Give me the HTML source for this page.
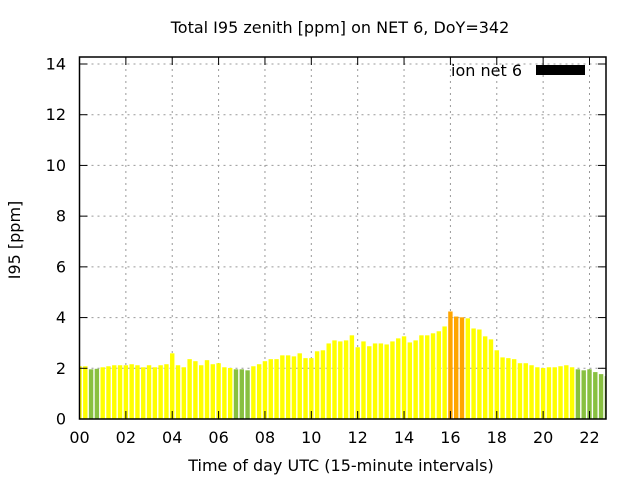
<!DOCTYPE html>
<html><head><meta charset="utf-8"><style>
body{margin:0;background:#fff}
svg text{font-family:"DejaVu Sans","Liberation Sans",sans-serif;fill:#000}
</style></head><body>
<svg id="chart" width="640" height="480" xmlns="http://www.w3.org/2000/svg">
<rect width="640" height="480" fill="#fff"/>
<text x="340" y="33" font-size="16" text-anchor="middle">Total I95 zenith [ppm] on NET 6, DoY=342</text>
<g id="grid"></g>
<g id="bars"></g>
<g id="axes"></g>
<text transform="translate(20,240) rotate(-90)" font-size="16" text-anchor="middle">I95 [ppm]</text>
<text x="341" y="471" font-size="16" text-anchor="middle">Time of day UTC (15-minute intervals)</text>
<g>
<text x="522" y="76" font-size="16" text-anchor="end">ion net 6</text>
<rect x="536" y="65" width="49" height="10" fill="#000"/>
</g>
</svg>
<script>
const values=[2.08,2.08,1.96,1.98,2.04,2.08,2.12,2.12,2.12,2.16,2.12,2.04,2.12,2.04,2.12,2.16,2.59,2.12,2.04,2.36,2.28,2.12,2.32,2.16,2.2,2.04,2.01,1.96,1.96,1.92,
2.08,2.16,2.28,2.36,2.36,2.51,2.51,2.47,2.59,2.40,2.40,2.67,2.71,2.98,3.10,3.06,3.10,3.30,2.83,3.06,2.87,2.98,2.98,2.94,3.06,3.18,3.26,3.02,3.10,3.30,
3.30,3.38,3.46,3.65,4.24,4.04,4.01,3.97,3.57,3.53,3.26,3.14,2.71,2.43,2.40,2.36,2.20,2.20,2.12,2.04,2.01,2.04,2.04,2.08,2.12,2.04,1.96,1.92,1.96,1.85,1.77,1.69];
const yTicks=[0,2,4,6,8,10,12,14];
const xTicks=["00","02","04","06","08","10","12","14","16","18","20","22"];
const L=79.5,R=606,T=57,B=419;
const xs=h=>L+(h/22)*(589.5-L);
const ys=v=>B-v*(B-64)/14;
const NS="http://www.w3.org/2000/svg";
function mk(tag,attrs,parent){const e=document.createElementNS(NS,tag);for(const k in attrs)e.setAttribute(k,attrs[k]);parent.appendChild(e);return e;}
const grid=document.getElementById('grid'),bars=document.getElementById('bars'),axes=document.getElementById('axes');
yTicks.forEach(v=>{const y=ys(v);
 if(v>0&&v<14.3){const g=mk('line',{x1:L,x2:R,y1:y,y2:y,stroke:'#999','stroke-dasharray':'2,4'},grid);
 
 }
 const t=mk('text',{x:66,y:y+5.5,'font-size':16,'text-anchor':'end'},axes);t.textContent=v;
 
 
 mk('line',{x1:L,x2:L+8,y1:y,y2:y,stroke:'#000'},axes);mk('line',{x1:R-8,x2:R,y1:y,y2:y,stroke:'#000'},axes);
});
xTicks.forEach(s=>{const x=xs(parseInt(s,10));
 if(x>L+1){const g=mk('line',{x1:x,x2:x,y1:T,y2:B,stroke:'#999','stroke-dasharray':'2,4'},grid);
 
 }
 const t=mk('text',{x:x,y:443,'font-size':16,'text-anchor':'middle'},axes);t.textContent=s;
 
 
 mk('line',{x1:x,x2:x,y1:B,y2:B-8,stroke:'#000'},axes);mk('line',{x1:x,x2:x,y1:T,y2:T+8,stroke:'#000'},axes);
});
values.forEach((v,i)=>{const c=xs(i*0.25);let x0=Math.max(L,c-2.2),x1=Math.min(R,c+2.2);
 if(x1<=x0)return;
 const col=v>=4?'#ffa500':(v<2?'#88c040':'#ffff00');
 const r=mk('rect',{x:x0,y:ys(v),width:x1-x0,height:B-ys(v),fill:col},bars);
 
 
});
const f=mk('rect',{x:L,y:T,width:R-L,height:B-T,fill:'none',stroke:'#000','stroke-width':1.5},axes);


</script>
</body></html>
